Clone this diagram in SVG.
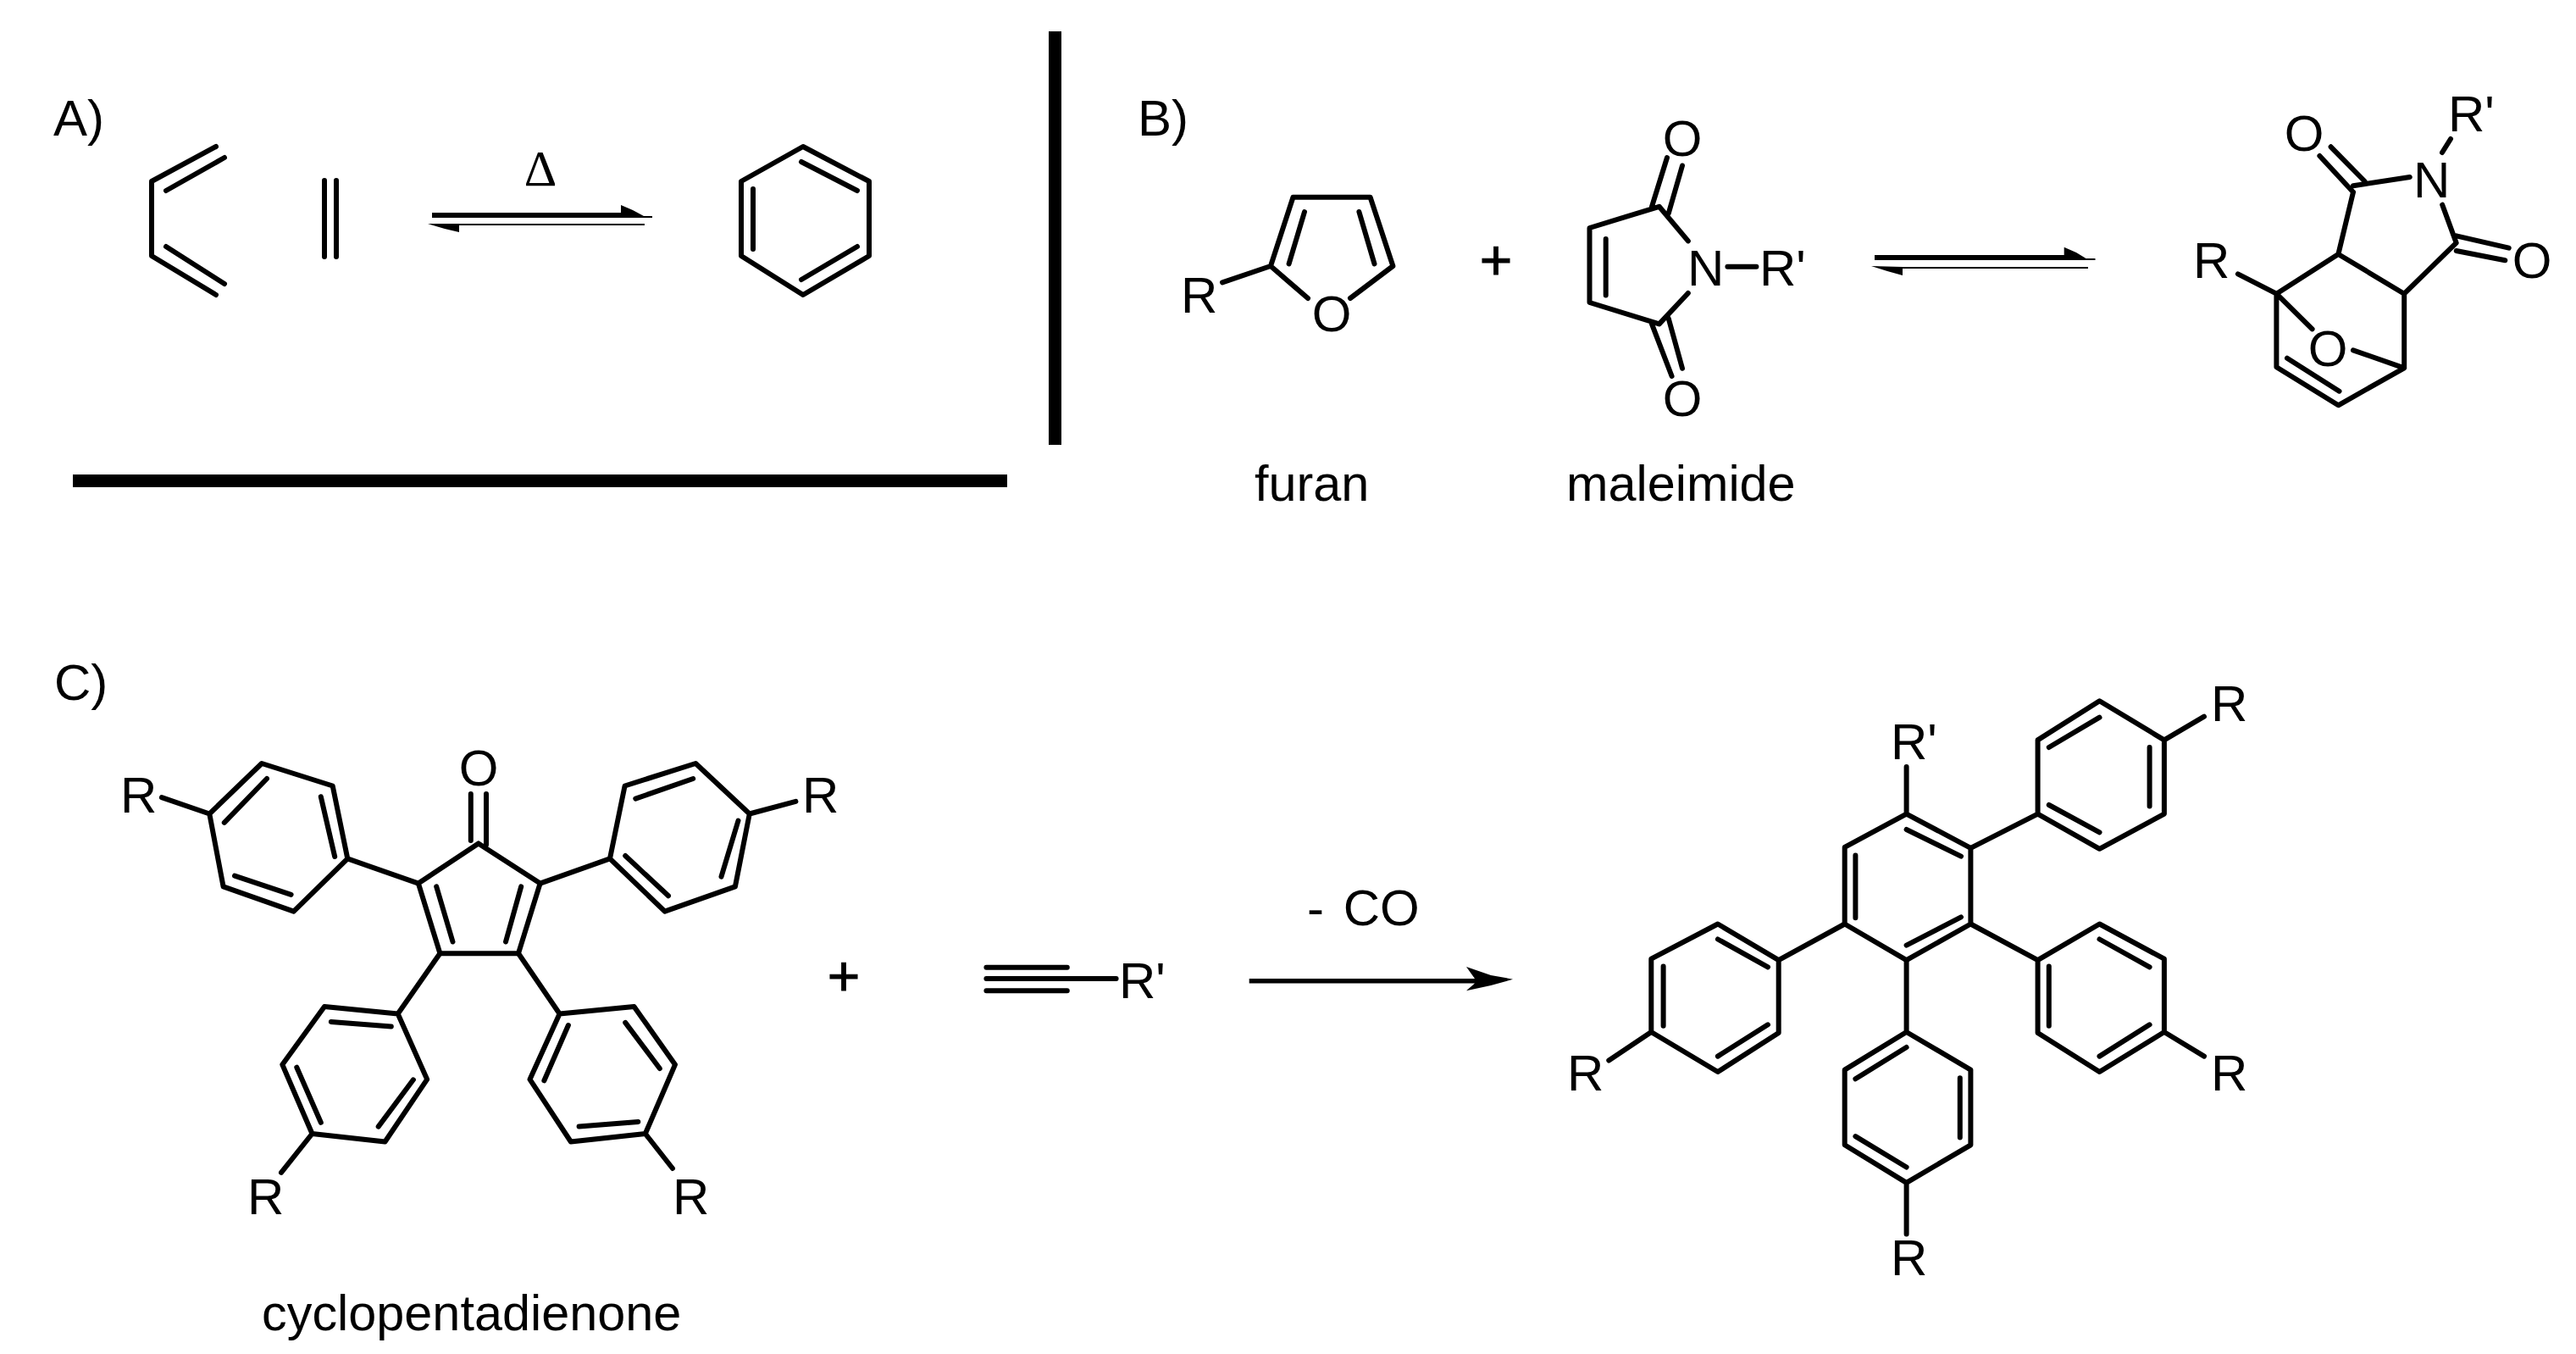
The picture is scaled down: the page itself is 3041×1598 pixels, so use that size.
<svg xmlns="http://www.w3.org/2000/svg" width="3041" height="1598" viewBox="0 0 3041 1598">
<style>
.b{fill:none;stroke:#000;stroke-width:6;stroke-linejoin:round;stroke-linecap:round}
.t{font-family:"Liberation Sans",Arial,sans-serif;font-size:60px;fill:#000}
.n{font-size:59.4px}
.d{font-family:"Liberation Serif","Times New Roman",serif;font-size:60px;fill:#000}
.m{text-anchor:middle}
.p{font-family:"Liberation Sans",Arial,sans-serif;font-size:66px;fill:#000;stroke:#000;stroke-width:1;text-anchor:middle}
.h{fill:#000}
</style>
<rect width="3041" height="1598" fill="#fff"/>
<g id="dividers">
<rect x="86" y="560" width="1103" height="15" class="h"/>
<rect x="1238" y="37" width="15" height="488" class="h"/>
</g>
<g id="labels">
<text class="t" x="63" y="160">A)</text>
<text class="t" x="1343" y="160">B)</text>
<text class="t" x="64" y="826">C)</text>
<text class="t n" x="1481" y="591">furan</text>
<text class="t n" x="1849" y="591">maleimide</text>
<text class="t n" x="309" y="1570">cyclopentadienone</text>
<text class="d m" x="638" y="219">Δ</text>
<text class="t" x="1543" y="1092" word-spacing="6">- CO</text>
<text class="p" x="1766" y="330">+</text>
<text class="p" x="996" y="1175">+</text>
</g>
<g id="butadiene">
<path class="b" d="M255 173L179 214V302L255 348M265 186L196 225M196 291L265 335"/>
</g>
<g id="ethene">
<path class="b" d="M383 213V303M397 213V303"/>
</g>
<g id="benzene">
<path class="b" d="M948 173L1026 214V302L948 348L875 302V214ZM946 191L1012 225M1012 291L946 330M889 223V294"/>
</g>
<g id="furan">
<path class="b" d="M1544 352L1500 314L1526.5 232.7H1617.6L1644.4 314L1594 352M1540 250L1521.6 311.4M1604.4 250L1622.5 311.4M1500 314L1443 333.4"/>
<text class="t" x="1394" y="369">R</text>
<text class="t m" x="1572" y="391">O</text>
</g>
<g id="maleimide">
<path class="b" d="M1992.8 284.4L1958.7 243.8L1876.5 269V357L1958.7 382.4L1992.8 346M1895.7 282V348.6M1950 243.8L1968 186M1969.7 252L1986 195.5M1950 382.4L1973.6 444M1969.7 375.7L1986 434.8M2039.4 314.8H2073.4"/>
<text class="t m" x="1986" y="184">O</text>
<text class="t m" x="1986" y="491">O</text>
<text class="t" x="1992" y="337">N</text>
<text class="t" x="2077" y="337">R'</text>
</g>
<g id="adduct">
<path class="b" d="M2687.4 346.7L2760.4 300L2838.2 346.7V434.3L2760.4 478.3L2687.4 433.3ZM2760.4 300L2778 226.7M2778 219.3L2844.8 209M2883.2 241.7L2899.7 286.7L2838.2 346.7M2778 226.7L2738.4 184M2791.6 214L2751.6 173.3M2893 164L2883 180M2899.7 278.3L2961.7 292.7M2899.7 296L2957.3 307.3M2687.4 346.7L2641.9 323.3M2687.4 346.7L2729.6 388.3M2778 413.3L2838.2 434.3M2700 422.7L2761.5 461.7"/>
<text class="t m" x="2720" y="178">O</text>
<text class="t" x="2849" y="233">N</text>
<text class="t" x="2890" y="155">R'</text>
<text class="t m" x="2989" y="328">O</text>
<text class="t" x="2589" y="328">R</text>
<text class="t m" x="2748" y="432">O</text>
</g>
<g id="cyclopentadienone">
<path class="b" d="M564.8 995.4L637.6 1042.6L612 1125.2H519.4L493.9 1042.6ZM515.2 1046.4L534.5 1111.5M615.2 1046.4L597 1111.5M555.8 992V937M574 997V937"/>
<text class="t m" x="565" y="927">O</text>
<path class="b" d="M410.3 1013.4L392.7 927.5L309 901L247.3 960.5L263.6 1046.4L346.7 1075.7ZM378.8 940.2L395.2 1011M315 919L264.8 970.9M277 1033.7L343.6 1055.8M410.3 1013.4L493.9 1042.6M247.3 960.5L190.9 941.2"/>
<text class="t" x="142" y="959">R</text>
<path class="b" d="M720 1013.4L737.6 927.5L821.2 901L884.8 960.5L867.9 1046.4L784.8 1075.7ZM750.3 942.6L818.2 919M871.5 968.5L851.5 1034.6M738.2 1010L789 1057.3M637.6 1042.6L720 1013.4M884.8 960.5L939.4 945.9"/>
<text class="t" x="947" y="959">R</text>
<path class="b" d="M469.7 1196.5L383 1188L333.3 1256.4L368.5 1338L454.5 1347.5L504.2 1273.9ZM390.9 1205.9L461.8 1211.6M350.3 1259.7L378.8 1324.8M487.9 1274.3L446.7 1329.6M519.4 1125.2L469.7 1196.5M368.5 1338L332 1383.8"/>
<text class="t" x="292" y="1433">R</text>
<path class="b" d="M660.6 1196.5L748.5 1188L797 1256.4L761.8 1338L673.9 1347.5L625.5 1273.9ZM670.9 1210L642.4 1275.3M738.2 1206.9L778.8 1261M683.6 1329.6L753.3 1323.9M612 1125.2L660.6 1196.5M761.8 1338L794 1379"/>
<text class="t" x="794" y="1433">R</text>
</g>
<g id="alkyne">
<path class="b" d="M1164.4 1141.7H1259.8M1164.4 1155H1317.6M1164.4 1169.3H1259.8"/>
<text class="t" x="1321" y="1178">R'</text>
</g>
<g id="product">
<path class="b" d="M2250.6 960.6L2326.4 1000.9V1090.5L2250.6 1133.2L2177.7 1090.5V999.9ZM2250.6 979L2315 1010.6M2315 1082.3L2250.6 1115.7M2190.4 1009.6V1083.3M2250.6 960.6V904.9"/>
<text class="t" x="2232" y="896">R'</text>
<path class="b" d="M2405.6 960.6V873.4L2478.5 827.3L2554.9 873.4V960.6L2478.5 1001.8ZM2418.8 882L2478.5 846.7M2537.6 882V951.4M2418.8 950L2478.5 982.4M2326.4 1000.9L2405.6 960.6M2554.9 873.4L2602 845.7"/>
<text class="t" x="2610" y="851">R</text>
<path class="b" d="M2405.6 1133.2L2478.5 1090.5L2554.9 1131.7V1218L2478.5 1265L2405.6 1219ZM2478.5 1108.5L2537.6 1141.4M2418.8 1140.5V1210.7M2478.5 1246.6L2537.6 1209.3M2326.4 1090.5L2405.6 1133.2M2554.9 1218L2602 1246.6"/>
<text class="t" x="2610" y="1287">R</text>
<path class="b" d="M2250.6 1218L2326.4 1262.6V1351.3L2250.6 1395.9L2177.7 1351.3V1262.6ZM2190.4 1273.3L2250.6 1236M2313.8 1272.3V1342.6M2190.4 1341.1L2250.6 1377.5M2250.6 1133.2V1218M2250.6 1395.9V1456.5"/>
<text class="t" x="2232" y="1505">R</text>
<path class="b" d="M2099.7 1133.2L2027.9 1090.5L1949.3 1131.7V1218L2027.9 1265L2099.7 1219ZM2027.9 1108.5L2087 1141.4M1963.6 1140.5V1210.7M2027.9 1246.6L2087 1209.3M2177.7 1090.5L2099.7 1133.2M1949.3 1218L1899.3 1251.5"/>
<text class="t" x="1850" y="1287">R</text>
</g>
<g id="connectors">
<path class="h" d="M510 251H733V242L747 248L760 255H770V257H510Z"/>
<path class="h" d="M540 264H761V266H542V274L525 270L505 264Z"/>
<path class="h" d="M2213 301H2436.7V291.7L2451 298L2462.5 305H2473.5V307H2213Z"/>
<path class="h" d="M2246 315H2465V317H2246V325L2228 320L2209 314Z"/>
<path class="h" d="M1474.7 1155H1741L1731 1141L1760 1151L1786 1155.7L1760 1163L1731 1169.3L1741 1160.5H1474.7Z"/>
</g>
</svg>
